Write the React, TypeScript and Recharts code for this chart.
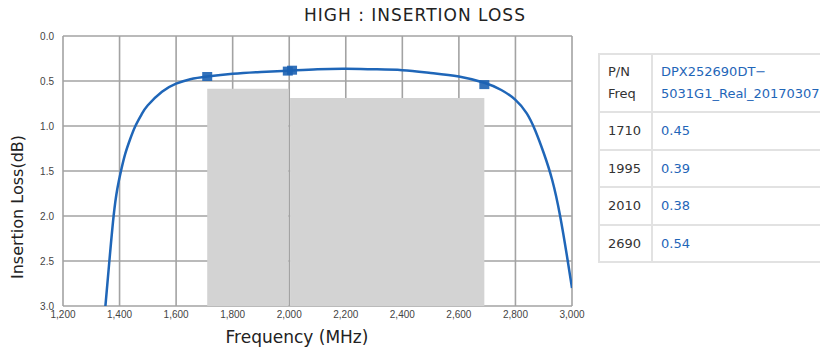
import React from 'react';
import { ComposedChart, Line, XAxis, YAxis, CartesianGrid, ReferenceArea } from 'recharts';

const curveFreq = [1350, 1364, 1379, 1392, 1405, 1420, 1437, 1456, 1478, 1500, 1550, 1600, 1650, 1710, 1800, 1900, 2000, 2100, 2200, 2300, 2400, 2500, 2600, 2690, 2750, 2800, 2840, 2870, 2900, 2930, 2958, 2984, 3000];
const curveLoss = [3.0, 2.5, 2.0, 1.7, 1.5, 1.31, 1.15, 1.0, 0.87, 0.77, 0.62, 0.53, 0.48, 0.45, 0.42, 0.4, 0.385, 0.37, 0.365, 0.37, 0.38, 0.41, 0.45, 0.52, 0.6, 0.71, 0.86, 1.05, 1.3, 1.6, 2.0, 2.48, 2.8];

const markerFreq = [1710, 1995, 2010, 2690];
const markerLoss = [0.45, 0.39, 0.38, 0.54];

const bandStart = [1710, 2003];
const bandEnd = [1997, 2690];
const bandTop = [0.585, 0.69];

const xTicks = [1200, 1400, 1600, 1800, 2000, 2200, 2400, 2600, 2800, 3000];
const yTicks = [0, 0.5, 1.0, 1.5, 2.0, 2.5, 3.0];

const title = 'HIGH : INSERTION LOSS';
const xLabel = 'Frequency (MHz)';
const yLabel = 'Insertion Loss(dB)';

const tableHeadLeft = ['P/N', 'Freq'];
const tableHeadRight = ['DPX252690DT\u2212', '5031G1_Real_20170307'];
const tableFreq = ['1710', '1995', '2010', '2690'];
const tableValue = ['0.45', '0.39', '0.38', '0.54'];

const curveData = curveFreq.map((f, i) => ({ freq: f, loss: curveLoss[i] }));
const markerData = markerFreq.map((f, i) => ({ freq: f, loss: markerLoss[i] }));

const FONT = '"DejaVu Sans", sans-serif';
const BLUE = '#1f66b8';
const GRID = '#a3a3a3';

const SquareDot = (props: any) => {
  const { cx, cy, index } = props;
  if (cx == null || cy == null) return null;
  return <rect key={`m${index}`} x={cx - 5} y={cy - 4.5} width={10} height={9} fill="#1c62b3" fillOpacity={0.9} />;
};

const cellBorder = '2px solid #e2e2e2';

export default function App() {
  return (
    <div style={{ position: 'absolute', left: 0, top: 0, width: 820, height: 351, overflow: 'hidden', background: '#fff', fontFamily: FONT }}>
      <div style={{ position: 'absolute', left: 0, top: 0 }}>
        <ComposedChart width={590} height={351} margin={{ top: 36, right: 18, bottom: 0, left: 0 }}>
          <CartesianGrid stroke={GRID} strokeWidth={1.6} />
          <XAxis
            dataKey="freq"
            type="number"
            domain={[1200, 3000]}
            ticks={xTicks}
            allowDataOverflow
            height={45}
            tickLine={false}
            axisLine={false}
            tickSize={3}
            tickFormatter={(v: number) => v.toLocaleString('en-US')}
            tick={{ fontSize: 10, fill: '#444', fontFamily: '"Liberation Sans", sans-serif' }}
          />
          <YAxis
            type="number"
            reversed
            domain={[0, 3]}
            ticks={yTicks}
            allowDataOverflow
            width={63}
            tickLine={false}
            axisLine={false}
            tickSize={0}
            tickMargin={9}
            tickFormatter={(v: number) => v.toFixed(1)}
            tick={{ fontSize: 10, fill: '#444', fontFamily: '"Liberation Sans", sans-serif' }}
          />
          {bandStart.map((x1, i) => (
            <ReferenceArea key={`b${i}`} x1={x1} x2={bandEnd[i]} y1={bandTop[i]} y2={3} fill="#d3d3d3" fillOpacity={1} stroke="none" />
          ))}
          <Line data={curveData} dataKey="loss" type="natural" stroke={BLUE} strokeWidth={2.5} dot={false} activeDot={false} isAnimationActive={false} />
          <Line data={markerData} dataKey="loss" stroke="none" dot={SquareDot} activeDot={false} isAnimationActive={false} />
        </ComposedChart>
      </div>
      <div style={{ position: 'absolute', left: 265, top: 5, width: 300, textAlign: 'center', fontSize: 17, letterSpacing: 1, color: '#222', whiteSpace: 'nowrap', lineHeight: '20px' }}>{title}</div>
      <div style={{ position: 'absolute', left: 197, top: 326, width: 200, textAlign: 'center', fontSize: 17, color: '#222', whiteSpace: 'nowrap', lineHeight: '22px' }}>{xLabel}</div>
      <div style={{ position: 'absolute', left: 18, top: 207, width: 0, height: 0 }}>
        <div style={{ position: 'absolute', left: -100, top: -11, width: 200, textAlign: 'center', fontSize: 16, color: '#222', whiteSpace: 'nowrap', lineHeight: '22px', transform: 'rotate(-90deg)' }}>{yLabel}</div>
      </div>
      <table style={{ position: 'absolute', left: 598, top: 53, borderCollapse: 'collapse', fontSize: 13, fontFamily: FONT, width: 300, tableLayout: 'fixed' }}>
        <colgroup>
          <col style={{ width: 53 }} />
          <col style={{ width: 247 }} />
        </colgroup>
        <tbody>
          <tr style={{ height: 58 }}>
            <td style={{ border: cellBorder, padding: '0 0 0 8px', color: '#333', lineHeight: '22px', verticalAlign: 'middle' }}>
              {tableHeadLeft[0]}<br />{tableHeadLeft[1]}
            </td>
            <td style={{ border: cellBorder, padding: '0 0 0 8px', color: BLUE, lineHeight: '22px', verticalAlign: 'middle', whiteSpace: 'nowrap' }}>
              {tableHeadRight[0]}<br />{tableHeadRight[1]}
            </td>
          </tr>
          {tableFreq.map((f, i) => (
            <tr key={f} style={{ height: 37.5 }}>
              <td style={{ border: cellBorder, padding: '0 0 0 8px', color: '#333', verticalAlign: 'middle' }}>{f}</td>
              <td style={{ border: cellBorder, padding: '0 0 0 8px', color: BLUE, verticalAlign: 'middle' }}>{tableValue[i]}</td>
            </tr>
          ))}
        </tbody>
      </table>
    </div>
  );
}
